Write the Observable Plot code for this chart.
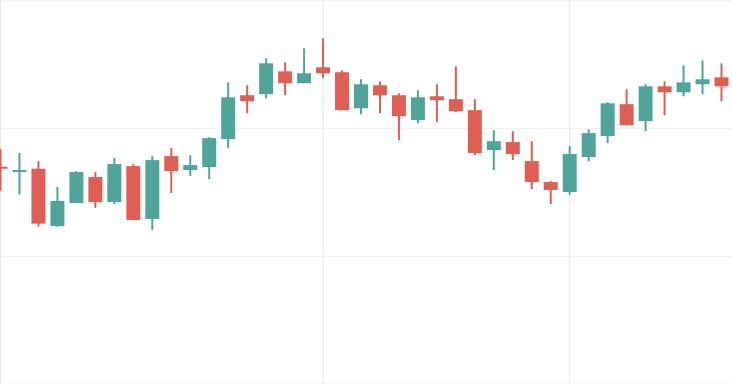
<!DOCTYPE html>
<html>
<head>
<meta charset="utf-8">
<script src="https://cdn.jsdelivr.net/npm/d3@7"></script>
<script src="https://cdn.jsdelivr.net/npm/@observablehq/plot@0.6"></script>
<style>
  html, body { margin: 0; padding: 0; background: #ffffff; }
  #chart svg { display: block; }
</style>
</head>
<body>
<div id="chart"></div>
<script>
// Candle index (session number)
const sessions = d3.range(39);
const open  = [106.98,106.56,106.82,102.34,104.14,106.17,104.22,107.03,102.89,107.81,106.72,106.95,109.14,112.58,112.66,114.45,113.52,114.77,114.38,111.56,113.36,112.58,110.63,112.50,112.27,111.41,108.28,108.91,107.42,105.78,105.00,107.73,109.38,111.88,110.55,113.28,112.81,113.44,113.98];
const close = [106.82,106.72,102.52,104.30,106.56,104.22,107.19,102.81,107.50,106.64,107.11,109.22,112.42,112.11,115.08,113.52,114.30,114.30,111.41,113.44,112.58,110.94,112.42,112.19,111.33,108.05,108.98,107.97,105.78,105.16,107.97,109.61,111.95,110.23,113.28,112.81,113.59,113.83,113.28];
const high  = [108.36,108.05,107.42,105.39,106.64,106.56,107.66,107.19,107.81,108.44,107.89,109.30,113.59,113.36,115.47,115.16,116.25,117.03,114.53,113.83,113.67,112.73,112.97,113.44,114.84,112.27,109.84,109.77,108.98,105.86,108.59,109.92,112.03,113.05,113.44,113.67,114.92,115.31,115.08];
const low   = [105.08,104.79,102.29,102.27,104.14,103.75,104.06,102.81,102.03,104.92,106.25,106.02,108.44,111.17,112.34,112.58,113.52,113.91,111.41,111.09,111.17,109.06,110.39,110.47,111.25,107.89,106.72,107.50,105.23,104.06,104.77,107.42,108.83,110.23,109.77,111.02,112.50,112.66,112.11];

// Grid tick values
const priceTicks = [120, 110, 100, 90];
const sessionTicks = [0, 17, 30];

const upColor = "#50a59b";
const downColor = "#e05f55";

const data = sessions.map(i => ({
  i, open: open[i], close: close[i], high: high[i], low: low[i],
  up: close[i] >= open[i]
}));

const chart = Plot.plot({
  width: 732,
  height: 384,
  margin: 0,
  x: {type: "linear", domain: [0, 38], range: [0, 721], axis: null},
  y: {domain: [90, 120], range: [383.5, 0.5], axis: null},
  marks: [
    Plot.ruleY(priceTicks, {stroke: "#efefef", strokeWidth: 1}),
    Plot.ruleX(sessionTicks, {stroke: "#e8e8e8", strokeWidth: 1}),
    Plot.ruleX(data, {x: "i", y1: "low", y2: "high", stroke: d => d.up ? upColor : downColor, strokeWidth: 2}),
    Plot.ruleX(data, {x: "i", y1: "open", y2: "close", stroke: d => d.up ? upColor : downColor, strokeWidth: 14, strokeLinecap: "butt"})
  ]
});

document.getElementById("chart").appendChild(chart);
</script>
</body>
</html>
